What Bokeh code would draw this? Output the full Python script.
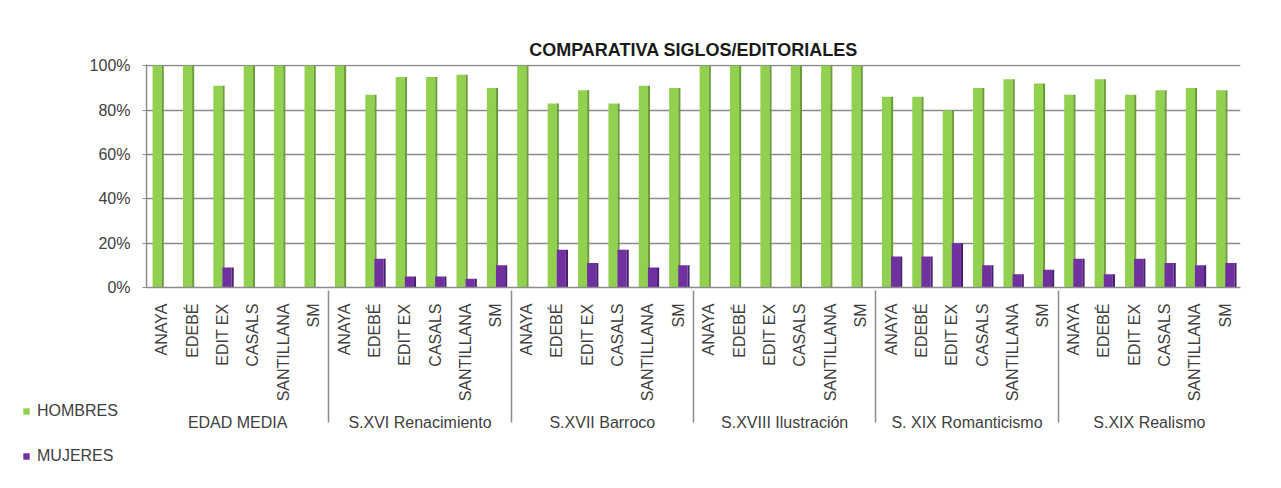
from bokeh.plotting import figure
from bokeh.models import FactorRange, Range1d, PrintfTickFormatter, Legend, LegendItem, ColumnDataSource
from bokeh.layouts import column
from bokeh.transform import dodge
from bokeh.embed import file_html
from bokeh.resources import INLINE
import math

periods = ["EDAD MEDIA", "S.XVI Renacimiento", "S.XVII Barroco",
           "S.XVIII Ilustración", "S. XIX Romanticismo", "S.XIX Realismo"]
editoriales = ["ANAYA", "EDEBÉ", "EDIT EX", "CASALS", "SANTILLANA", "SM"]

hombres = [
    100, 100, 91, 100, 100, 100,
    100, 87, 95, 95, 96, 90,
    100, 83, 89, 83, 91, 90,
    100, 100, 100, 100, 100, 100,
    86, 86, 80, 90, 94, 92,
    87, 94, 87, 89, 90, 89,
]
mujeres = [
    0, 0, 9, 0, 0, 0,
    0, 13, 5, 5, 4, 10,
    0, 17, 11, 17, 9, 10,
    0, 0, 0, 0, 0, 0,
    14, 14, 20, 10, 6, 8,
    13, 6, 13, 11, 10, 11,
]
series_names = ["HOMBRES", "MUJERES"]

factors = [(per, ed) for per in periods for ed in editoriales]
src = ColumnDataSource(dict(x=factors, h=hombres, m=mujeres))

FONT = "Liberation Sans"
TXT = "#404040"
GRID = "#8c8c8c"
G_FRONT, G_SIDE = "#92D050", "#6B9E36"
P_FRONT, P_SIDE = "#7030A0", "#4B1F70"

W, H = 1265, 472

p = figure(width=W, height=H, output_backend="svg", toolbar_location=None,
           x_range=FactorRange(*factors, group_padding=0, factor_padding=0, range_padding=0),
           y_range=Range1d(0, 100.6),
           min_border_left=146, min_border_right=25, min_border_top=64, min_border_bottom=185,
           title="COMPARATIVA SIGLOS/EDITORIALES")
p.frame_align = False
p.background_fill_color = "white"
p.border_fill_color = "white"
p.outline_line_color = None

p.title.align = "center"
p.title.text_font = FONT
p.title.text_font_size = "18px"
p.title.text_font_style = "bold"
p.title.text_color = "#1a1a1a"

p.vbar(x=dodge("x", -0.15, range=p.x_range), top="h", width=0.30, source=src,
       fill_color=G_FRONT, line_color=None)
p.vbar(x=dodge("x", 0.035, range=p.x_range), top="h", width=0.07, source=src,
       fill_color=G_SIDE, line_color=None)
p.vbar(x=dodge("x", 0.15, range=p.x_range), top="m", width=0.30, source=src,
       fill_color=P_FRONT, line_color=None)
p.vbar(x=dodge("x", 0.335, range=p.x_range), top="m", width=0.07, source=src,
       fill_color=P_SIDE, line_color=None)

p.xgrid.grid_line_color = None
p.ygrid.grid_line_color = GRID
p.ygrid.grid_line_width = 1.5
p.yaxis.ticker = [0, 20, 40, 60, 80, 100]
p.yaxis.formatter = PrintfTickFormatter(format="%d%%")
p.yaxis.axis_line_color = GRID
p.yaxis.axis_line_width = 1.5
p.yaxis.major_tick_line_color = GRID
p.yaxis.major_tick_out = 4
p.yaxis.major_tick_in = 0
p.yaxis.minor_tick_line_color = None
p.yaxis.major_label_text_font = FONT
p.yaxis.major_label_text_font_size = "16px"
p.yaxis.major_label_text_color = TXT
p.yaxis.major_label_standoff = 12

xa = p.xaxis[0]
xa.axis_line_color = GRID
xa.axis_line_width = 1.5
xa.major_tick_line_color = None
xa.minor_tick_line_color = None
xa.major_label_orientation = math.pi / 2
xa.major_label_text_font = FONT
xa.major_label_text_font_size = "16px"
xa.major_label_text_color = TXT
xa.major_label_standoff = 10
xa.group_text_font = FONT
xa.group_text_font_size = "16px"
xa.group_text_font_style = "normal"
xa.group_text_color = TXT
xa.separator_line_color = GRID
xa.separator_line_width = 1.5

# transparent legend strip overlaid on the empty lower-left part of the chart
LEG_H = 80
leg = figure(width=W, height=LEG_H, output_backend="svg", toolbar_location=None,
             x_axis_type=None, y_axis_type=None, min_border=0,
             x_range=Range1d(0, 1), y_range=Range1d(0, 1))
leg.frame_align = False
leg.margin = (-LEG_H, 0, 0, 0)
leg.background_fill_alpha = 0
leg.border_fill_alpha = 0
leg.outline_line_color = None
leg.grid.visible = False
lg = leg.vbar(x="h", top="h", width=0.3, source=src, fill_color=G_FRONT, line_color=None,
              visible=False)
lm = leg.vbar(x="m", top="m", width=0.3, source=src, fill_color=P_FRONT, line_color=None,
              visible=False)
legend = Legend(items=[LegendItem(label=series_names[0], renderers=[lg]),
                       LegendItem(label=series_names[1], renderers=[lm])],
                location=(22, 7), padding=0, margin=0, spacing=27,
                label_height=16, glyph_height=8, glyph_width=8, label_standoff=7,
                label_text_font=FONT, label_text_font_size="16px", label_text_color=TXT,
                inactive_fill_alpha=0,
                background_fill_alpha=0, border_line_color=None)
leg.add_layout(legend)

layout = column(p, leg, spacing=0)
open("out.html", "w").write(file_html(layout, INLINE))
